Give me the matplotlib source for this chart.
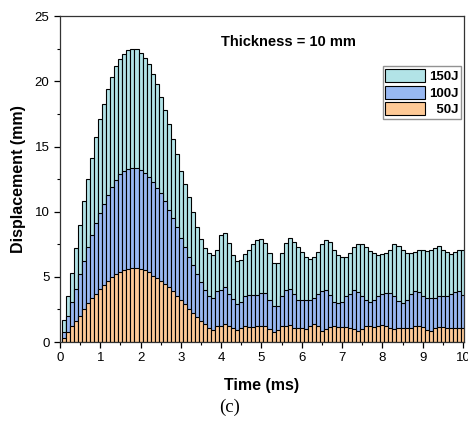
import numpy as np
import matplotlib
matplotlib.use("Agg")
import matplotlib.pyplot as plt

plt.rcParams['font.family'] = ['Liberation Sans', 'DejaVu Sans']

# time axis (ms), one bar every 0.1 ms
time_ms = np.round(np.arange(1, 101) * 0.1, 1)

disp_150J = [1.7, 3.5, 5.3, 7.2, 9.0, 10.8, 12.5, 14.1, 15.7, 17.1,
             18.25, 19.4, 20.3, 21.2, 21.7, 22.1, 22.4, 22.5, 22.5, 22.2,
             21.8, 21.3, 20.6, 19.8, 18.8, 17.8, 16.7, 15.6, 14.4, 13.1,
             12.1, 11.1, 10.0, 8.8, 7.9, 7.2, 6.8, 6.7, 7.1, 8.2,
             8.4, 7.6, 6.7, 6.2, 6.3, 6.75, 7.1, 7.5, 7.8, 7.9,
             7.6, 6.8, 6.1, 6.1, 6.8, 7.6, 7.95, 7.7, 7.3, 6.9,
             6.55, 6.4, 6.5, 6.9, 7.5, 7.8, 7.65, 7.1, 6.7, 6.5,
             6.5, 6.85, 7.3, 7.55, 7.5, 7.3, 7.0, 6.8, 6.7, 6.75,
             6.85, 7.1, 7.5, 7.4, 7.1, 6.85, 6.8, 6.9, 7.1, 7.05,
             7.0, 7.05, 7.25, 7.35, 7.1, 6.9, 6.75, 6.9, 7.1, 7.05]

disp_100J = [0.8, 2.0, 3.1, 4.1, 5.2, 6.2, 7.3, 8.2, 9.1, 9.9,
             10.6, 11.3, 11.9, 12.4, 12.9, 13.1, 13.3, 13.35, 13.35, 13.2,
             13.0, 12.7, 12.3, 11.8, 11.4, 10.8, 10.1, 9.5, 8.8, 8.0,
             7.3, 6.5, 5.9, 5.2, 4.6, 4.0, 3.5, 3.4, 3.9, 4.0,
             4.2, 3.7, 3.3, 2.9, 3.1, 3.5, 3.6, 3.6, 3.6, 3.8,
             3.75, 3.2, 2.75, 2.8, 3.5, 4.0, 4.1, 3.65, 3.2, 3.2,
             3.2, 3.2, 3.4, 3.7, 3.9, 4.0, 3.6, 3.1, 3.0, 3.1,
             3.5, 3.7, 4.0, 3.85, 3.5, 3.2, 3.1, 3.2, 3.5, 3.7,
             3.75, 3.75, 3.5, 3.15, 3.0, 3.2, 3.65, 3.95, 3.85, 3.5,
             3.35, 3.4, 3.4, 3.5, 3.5, 3.5, 3.65, 3.85, 3.9, 3.6]

disp_50J = [0.3, 0.8, 1.2, 1.6, 2.0, 2.5, 3.0, 3.4, 3.7, 4.1,
            4.4, 4.7, 5.0, 5.2, 5.4, 5.5, 5.6, 5.65, 5.65, 5.6,
            5.5, 5.4, 5.1, 4.9, 4.7, 4.45, 4.2, 3.9, 3.55, 3.2,
            2.9, 2.55, 2.25, 1.95, 1.6, 1.4, 1.05, 0.9, 1.2, 1.25,
            1.35, 1.25, 1.05, 0.9, 1.05, 1.2, 1.15, 1.15, 1.2, 1.25,
            1.2, 1.0, 0.8, 0.9, 1.2, 1.25, 1.3, 1.1, 1.1, 1.05,
            1.0, 1.2, 1.35, 1.25, 0.85, 1.0, 1.15, 1.2, 1.15, 1.15,
            1.15, 1.1, 1.0, 0.85, 1.0, 1.2, 1.25, 1.15, 1.2, 1.3,
            1.2, 1.05, 0.97, 1.05, 1.1, 1.1, 1.1, 1.2, 1.25, 1.15,
            0.9, 0.85, 1.1, 1.15, 1.15, 1.1, 1.05, 1.1, 1.1, 1.1]

labels = ['150J', '100J', '\u200750J']
colors = ['#b2e3e7', '#98b8f2', '#fdc996']

fig = plt.figure(figsize=(4.68, 4.26), dpi=100)
ax = fig.add_axes([0.128, 0.197, 0.863, 0.765])

# overlapped (not stacked) bars, largest energy at the back
for vals, lab, col in zip([disp_150J, disp_100J, disp_50J], labels, colors):
    ax.bar(time_ms, vals, width=0.1, color=col, edgecolor='black',
           linewidth=0.8, label=lab)

ax.set_xlim(0, 10.02)
ax.set_ylim(0, 25)
ax.set_xticks(range(0, 11))
ax.set_xticks(np.arange(0.5, 10, 1.0), minor=True)
ax.set_yticks(range(0, 26, 5))
ax.set_yticks(np.arange(2.5, 25, 5), minor=True)
ax.tick_params(which='major', direction='out', length=4, width=0.9, labelsize=9.5)
ax.tick_params(which='minor', direction='out', length=2.5, width=0.8)
for s in ax.spines.values():
    s.set_linewidth(0.9)
    s.set_color('#333333')

ax.set_xlabel('Time (ms)', fontsize=11.5, fontweight='bold', labelpad=10)
ax.set_ylabel('Displacement (mm)', fontsize=11.5, fontweight='bold', labelpad=6)

ax.text(5.67, 23.0, 'Thickness = 10 mm', fontsize=10.5, fontweight='bold',
        ha='center', va='center')

leg = ax.legend(loc='upper right', bbox_to_anchor=(0.993, 0.846),
                prop={'weight': 'bold', 'size': 9.5},
                frameon=True, fancybox=False, edgecolor='#777777',
                handlelength=3.0, handleheight=1.15, handletextpad=0.3,
                labelspacing=0.2, borderpad=0.2, borderaxespad=0.0)
leg.get_frame().set_linewidth(1.0)

fig.text(0.49, 0.043, '(c)', fontsize=13.5, family='Liberation Serif',
         ha='center', va='center')

fig.savefig('out.png', dpi=100)
